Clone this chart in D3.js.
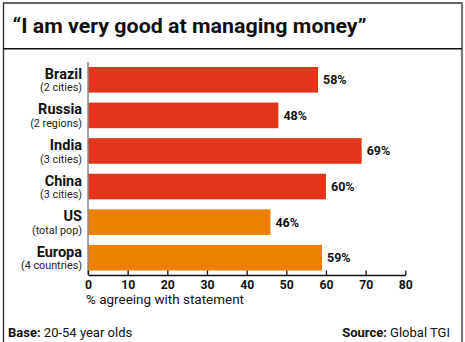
<!DOCTYPE html>
<html>
<head>
<meta charset="utf-8">
<script src="https://cdn.jsdelivr.net/npm/d3@7"></script>
<style>
  html, body { margin: 0; padding: 0; background: #fff; }
  svg { display: block; font-family: Roboto, "DejaVu Sans", sans-serif; }
</style>
</head>
<body>
<svg id="chart" width="465" height="342"></svg>
<script>
// Survey results: share agreeing with "I am very good at managing money"
const countries = ["Brazil", "Russia", "India", "China", "US", "Europa"];
const bases = ["(2 cities)", "(2 regions)", "(3 cities)", "(3 cities)", "(total pop)", "(4 countries)"];
const values = [58, 48, 69, 60, 46, 59];
const groups = ["bric", "bric", "bric", "bric", "west", "west"];
const xTicks = [0, 10, 20, 30, 40, 50, 60, 70, 80];

const colors = { bric: "#e2361b", west: "#ee8000" };

const svg = d3.select("#chart");
const W = 465, H = 342;

// Frame and title band
svg.append("path")
  .attr("d", `M3.5,${H} L3.5,3 L462,3 L462,${H}`)
  .attr("fill", "none").attr("stroke", "#333").attr("stroke-width", 1.4);
svg.append("line")
  .attr("x1", 462).attr("x2", 462).attr("y1", 3).attr("y2", H)
  .attr("stroke", "#777").attr("stroke-width", 2.2);
svg.append("line")
  .attr("x1", 3).attr("x2", 462).attr("y1", 48.7).attr("y2", 48.7)
  .attr("stroke", "#111").attr("stroke-width", 1.4);

svg.append("text")
  .attr("x", 12.5).attr("y", 33)
  .attr("font-size", 20.5).attr("font-weight", 700).attr("fill", "#111")
  .attr("textLength", 354).attr("lengthAdjust", "spacingAndGlyphs")
  .text("\u201CI am very good at managing money\u201D");

// Scales
const x = d3.scaleLinear().domain([0, 80]).range([88, 405.3]);
const y = d3.scaleBand().domain(countries).range([62, 275.5]).paddingInner(0.28).paddingOuter(0.14);

// Bars
const rows = countries.map((c, i) => ({ c, base: bases[i], v: values[i], g: groups[i] }));

svg.append("g").selectAll("rect").data(rows).join("rect")
  .attr("x", x(0)).attr("y", d => y(d.c))
  .attr("width", d => x(d.v) - x(0)).attr("height", y.bandwidth())
  .attr("fill", d => colors[d.g]);

// Value labels
svg.append("g").selectAll("text").data(rows).join("text")
  .attr("x", d => x(d.v) + 5).attr("y", d => y(d.c) + y.bandwidth() / 2 + 4.5)
  .attr("font-size", 12.5).attr("font-weight", 700).attr("fill", "#111")
  .text(d => d.v + "%");

// Category labels
const lab = svg.append("g").selectAll("g").data(rows).join("g")
  .attr("transform", d => `translate(82,${y(d.c)})`);
lab.append("text").attr("text-anchor", "end").attr("y", 11.8)
  .attr("font-size", 14.5).attr("font-weight", 700).attr("fill", "#111")
  .text(d => d.c);
lab.append("text").attr("text-anchor", "end").attr("y", 24.5)
  .attr("font-size", 10.8).attr("fill", "#222")
  .text(d => d.base);

// Vertical axis line
svg.append("line")
  .attr("x1", x(0)).attr("x2", x(0)).attr("y1", 62).attr("y2", 275)
  .attr("stroke", "#888").attr("stroke-width", 1.5);

// Bottom axis
const axis = d3.axisBottom(x).tickValues(xTicks).tickSize(-4.5).tickPadding(5).tickSizeOuter(0);
const gx = svg.append("g").attr("transform", "translate(0,275)").call(axis);
gx.select(".domain").attr("stroke", "#111").attr("stroke-width", 1.5);
gx.selectAll(".tick line").attr("stroke", "#111").attr("stroke-width", 1.3);
gx.selectAll(".tick text")
  .attr("font-family", "Roboto, sans-serif").attr("font-size", 12.2)
  .attr("font-weight", 700).attr("fill", "#111");

svg.append("text")
  .attr("x", 86).attr("y", 304)
  .attr("font-size", 12.5).attr("fill", "#111")
  .attr("textLength", 158).attr("lengthAdjust", "spacingAndGlyphs")
  .text("% agreeing with statement");

// Footer
const base = svg.append("text").attr("x", 8).attr("y", 337)
  .attr("font-size", 13).attr("fill", "#111");
base.append("tspan").attr("font-weight", 700).text("Base:");
base.append("tspan").text(" 20-54 year olds");

const src = svg.append("text").attr("x", 450).attr("y", 337)
  .attr("text-anchor", "end").attr("font-size", 13).attr("fill", "#111");
src.append("tspan").attr("font-weight", 700).text("Source:");
src.append("tspan").text(" Global TGI");
</script>
</body>
</html>
